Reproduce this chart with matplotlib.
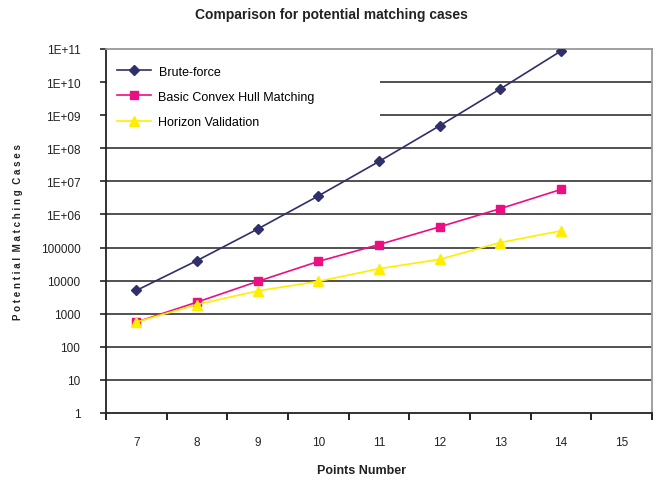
import matplotlib
matplotlib.use("Agg")
import matplotlib.pyplot as plt
from matplotlib.patches import Rectangle

plt.rcParams["font.family"] = ["Liberation Sans", "DejaVu Sans"]

categories = ["7", "8", "9", "10", "11", "12", "13", "14", "15"]
brute_force = [5040, 40320, 362880, 3628800, 39916800, 479001600, 6227020800, 87178291200]
convex_hull = [560, 2240, 9500, 38000, 123000, 423000, 1500000, 5700000]
horizon = [560, 1900, 4900, 9500, 23000, 44000, 142000, 320000]
y_ticks = [10 ** k for k in range(12)]
y_labels = ["1", "10", "100", "1000", "10000", "100000"] + ["1E+%02d" % k for k in range(6, 12)]

fig = plt.figure(figsize=(6.63, 4.85), dpi=100)
ax = fig.add_axes([106 / 663, 1 - 414 / 485, 546 / 663, 364 / 485])

x = list(range(len(brute_force)))
ax.plot(x, brute_force, color="#2f2f6b", marker="D", ms=5, lw=1.2, label="Brute-force", zorder=4)
ax.plot(x, convex_hull, color="#ec0f84", marker="s", ms=5.5, lw=1.2, label="Basic Convex Hull Matching", zorder=4)
ax.plot(x, horizon, color="#ffee00", marker="^", ms=6.5, lw=1.2, label="Horizon Validation", zorder=4)

ax.set_yscale("log")
ax.set_ylim(1, 1e11)
ax.set_xlim(-0.5, len(categories) - 0.5)
ax.set_yticks(y_ticks)
ax.set_yticklabels(y_labels)
ax.minorticks_off()
ax.set_xticks([i - 0.5 for i in range(len(categories) + 1)])
ax.set_xticklabels([])
for i, c in enumerate(categories):
    ax.text(i, -0.08, c, transform=ax.get_xaxis_transform(), ha="center", va="center",
            fontsize=8.5, color="#222222")

for yv in y_ticks[1:-1]:
    ax.axhline(yv, color="#222222", lw=1.1, zorder=1)

ax.tick_params(axis="y", direction="out", length=4.5, width=1.2, labelsize=8.5, pad=14, colors="#222222")
ax.tick_params(axis="x", direction="out", length=5, width=1.2)
for s in ["left", "bottom"]:
    ax.spines[s].set_color("#222222")
    ax.spines[s].set_linewidth(1.3)
for s in ["top", "right"]:
    ax.spines[s].set_color("#999999")
    ax.spines[s].set_linewidth(1.3)

# white box behind the legend, like the original
ax.add_patch(Rectangle((0.002, 0.78), 0.5, 0.215, transform=ax.transAxes,
                       facecolor="white", edgecolor="none", zorder=2))
leg = ax.legend(loc="upper left", bbox_to_anchor=(0.0, 0.985), frameon=False, fontsize=9,
                handlelength=2.7, labelspacing=1.05, borderaxespad=0.5, handletextpad=0.6)
leg.set_zorder(5)

fig.text(0.5, 1 - 15 / 485, "Comparison for potential matching cases", ha="center", va="center",
         fontsize=10, fontweight="bold", color="#222222")
fig.text(362 / 663, 1 - 471 / 485, "Points Number", ha="center", va="center",
         fontsize=9, fontweight="bold", color="#222222")
fig.text(18 / 663, 1 - 232 / 485, "P o t e n t i a l  M a t c h i n g  C a s e s", rotation=90,
         ha="center", va="center", fontsize=7, fontweight="bold", color="#222222")

fig.savefig("out.png", dpi=100)
